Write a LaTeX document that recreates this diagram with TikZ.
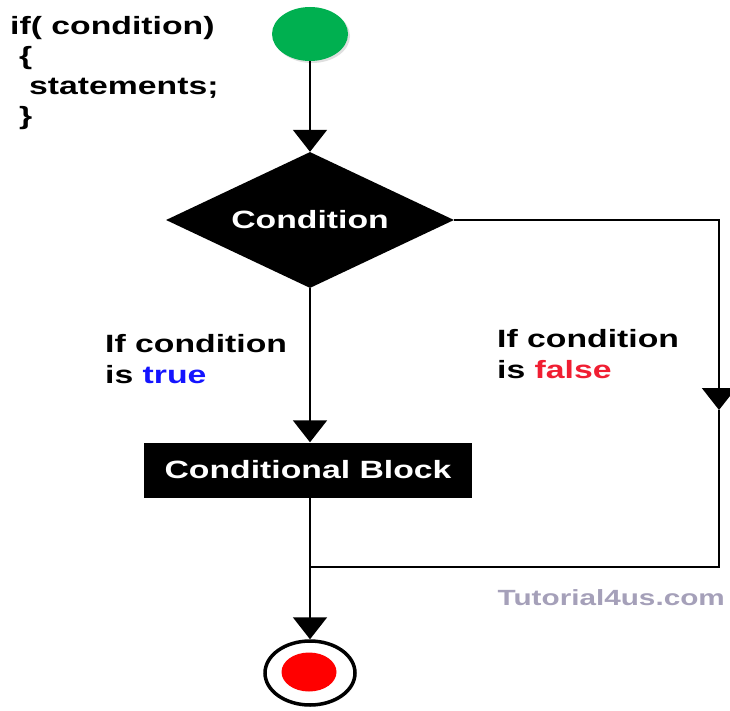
\documentclass[tikz,border=0pt]{standalone}
\usepackage{fontspec}
\setmainfont[FakeStretch=1.35]{Liberation Sans}
\usepackage{tikz}
\usetikzlibrary{shapes}
\usetikzlibrary{arrows.meta}
\usetikzlibrary{shadows}
\definecolor{startgreen}{RGB}{0,176,80}
\definecolor{stopred}{RGB}{255,0,0}
\definecolor{falsered}{RGB}{240,30,50}
\definecolor{truebue}{RGB}{20,20,255}
\definecolor{markgray}{RGB}{165,160,185}
\tikzstyle{line} = [draw=black, line width=2pt]
\tikzstyle{flow} = [line, -{Triangle[width=34pt,length=22pt]}]
\tikzstyle{blackbox} = [fill=black, text=white, inner sep=0pt,
font=\fontsize{25}{25}\selectfont\bfseries]
\tikzstyle{decision} = [blackbox, diamond, aspect=2.2, minimum width=288pt,
minimum height=136pt]
\tikzstyle{process} = [blackbox, rectangle, minimum width=328pt,
minimum height=55pt]
\tikzstyle{caption} = [anchor=base west, align=left, inner sep=0pt,
font=\fontsize{25}{31}\selectfont\bfseries]
\newcommand{\flowto}[3][]{ %
  % Connect all nodes #2 to all nodes #3.
  \foreach \x in {#2} { %
    \foreach \y in {#3} { %
      \path (\x) edge [flow, #1] (\y) ;%
    } ;
  } ;
}

\begin{document}
\begin{tikzpicture}[x=1pt, y=-1pt]
  \useasboundingbox (0,0) rectangle (730,711);
  % base west is the baseline of the last line
  \node[caption, font=\fontsize{25}{30}\selectfont\bfseries](code) at (10,125)
    {if( condition)\\
    \hspace*{9pt}\{\\
    \hspace*{19pt}statements;\\
    \hspace*{9pt}\}};
  \node[ellipse, fill=startgreen, minimum width=76pt, minimum height=54pt,
    drop shadow={shadow xshift=2pt, shadow yshift=-2pt, fill=gray!50}](start)
    at (310,34) {};
  \node[decision](cond) at (310,220) {Condition};
  \node[process](block) at (308,470) {Conditional Block};
  \node[ellipse, draw=black, line width=3.5pt, fill=white, minimum width=90pt,
    minimum height=64pt,
    drop shadow={shadow xshift=1.5pt, shadow yshift=-1.5pt, fill=gray!40}](stop)
    at (310,673) {};
  \node[ellipse, fill=stopred, minimum width=55pt, minimum height=39pt](stopdot)
    at (309,672) {};
  \node[caption](truelbl) at (105,383) {If condition\\is \textcolor{truebue}{true}};
  \node[caption](falselbl) at (497,378) {If condition\\is \textcolor{falsered}{false}};
  \node[anchor=base east, inner sep=0pt, text=markgray,
    font=\fontsize{22}{22}\selectfont\bfseries](mark) at (725,605) {Tutorial4us.com};
  \coordinate (rtop) at (719,220);
  \coordinate (rmid) at (719,410);
  \coordinate (rbot) at (719,567);
  \coordinate (join) at (310,567);
  \flowto{start.south}{cond.north};
  \draw[flow] (cond.south) -- (cond.south |- block.north);
  \draw[flow] (cond.east) -- (rtop) -- (rmid);
  \draw[line] (rmid) -- (rbot) -- (join);
  \draw[line] (block.south -| join) -- (join);
  \flowto{join}{stop.north};
\end{tikzpicture}
\end{document}
